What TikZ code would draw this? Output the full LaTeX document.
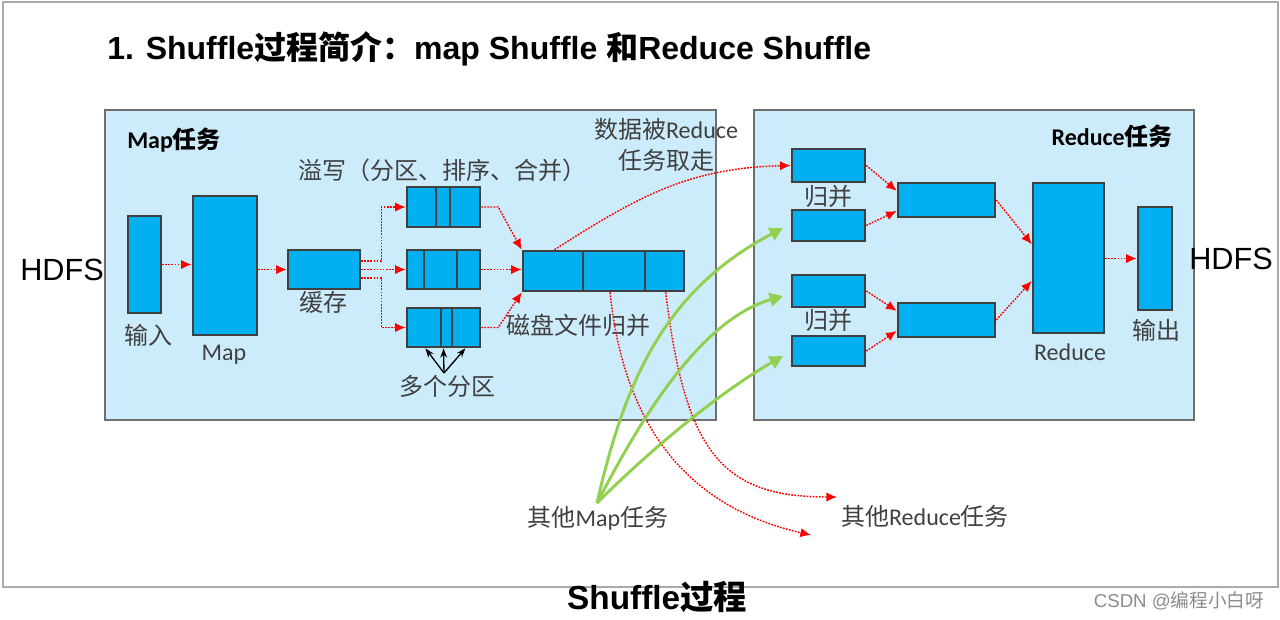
\documentclass[tikz,border=0pt]{standalone}
\usepackage{fontspec}
\setmainfont{Carlito}
\newfontfamily\cjk{Noto Sans CJK SC}
\newfontfamily\arialf{Liberation Sans}
\usetikzlibrary{fit,arrows.meta,calc}
\definecolor{boxfill}{RGB}{0,176,240}
\definecolor{boxline}{RGB}{64,64,64}
\definecolor{panelfill}{RGB}{204,236,252}
\definecolor{panelline}{RGB}{110,110,110}
\definecolor{framegray}{RGB}{170,170,170}
\definecolor{txtgray}{RGB}{64,64,64}
\definecolor{gline}{RGB}{146,208,80}
\newcommand{\zh}[1]{{\cjk #1}}
\tikzset{
  panel/.style={draw=panelline, fill=panelfill, line width=1.1pt, inner sep=0pt},
  bx/.style={draw=boxline, fill=boxfill, line width=1.9pt, inner sep=0pt},
  divider/.style={draw=boxline, line width=1.5pt},
  lbl/.style={font=\fontsize{18pt}{21pt}\selectfont, text=txtgray, inner sep=0pt},
  hlbl/.style={font=\fontsize{18pt}{21pt}\selectfont\bfseries, text=black, inner sep=0pt},
  ra/.style={draw=red, line width=1.1pt, dash pattern=on 1.3pt off 1pt, -{Latex[length=8pt,width=7pt]}},
  ga/.style={draw=gline, line width=2.2pt, -{Triangle[length=10pt,width=10pt]}},
  ka/.style={draw=black, line width=1pt, -{Stealth[length=7pt,width=5pt]}},
}
\begin{document}
\begin{tikzpicture}[x=0.75pt,y=-0.75pt]
\useasboundingbox (0,0) rectangle (1280,619);
\fill[white] (0,0) rectangle (1280,619);
\draw[framegray, line width=1pt] (3,2) rectangle (1278,587);

% title
\node[anchor=west, inner sep=0pt, font=\fontsize{24pt}{28pt}\selectfont\bfseries] (title) at (107,49)
  {{\arialf 1. Shuffle}{\cjk 过程简介：}{\arialf map Shuffle }{\cjk 和}{\arialf Reduce Shuffle}};

% panels
\node[panel, fit={(105,110)(716,420)}] (mappanel) {};
\node[panel, fit={(754,110)(1194,420)}] (redpanel) {};
\node[hlbl, anchor=west] (maptitle) at (127,140) {Map\zh{任务}};
\node[hlbl, anchor=east] (redtitle) at (1173,136) {Reduce\zh{任务}};

% HDFS
\node[inner sep=0pt, font=\arialf\fontsize{23pt}{26pt}\selectfont] (hdfsin) at (62,270) {HDFS};
\node[inner sep=0pt, font=\arialf\fontsize{23pt}{26pt}\selectfont] (hdfsout) at (1231,259) {HDFS};

% map side boxes
\node[bx, fit={(128,216)(161,313)}] (in) {};
\node[bx, fit={(193,196)(257,335)}] (map) {};
\node[bx, fit={(288,250)(360,289)}] (buf) {};
\node[bx, fit={(407,187)(480,227)}] (p1) {};
\node[bx, fit={(407,250)(480,289)}] (p2) {};
\node[bx, fit={(407,308)(480,347)}] (p3) {};
\node[bx, fit={(523,251)(684,291)}] (disk) {};
\draw[divider] (436,187) -- (436,227) (450,187) -- (450,227);
\draw[divider] (424,250) -- (424,289) (457,250) -- (457,289);
\draw[divider] (441,308) -- (441,347) (452,308) -- (452,347);
\draw[divider] (583,251) -- (583,291) (645,251) -- (645,291);

% map side labels
\node[lbl] (lin) at (148,335) {\zh{输入}};
\node[lbl] (lmap) at (224,355) {Map};
\node[lbl] (lbuf) at (323,302) {\zh{缓存}};
\node[lbl] (lspill) at (442,170) {\zh{溢写（分区、排序、合并）}};
\node[lbl] (lparts) at (447,386) {\zh{多个分区}};
\node[lbl] (ldisk) at (578,325) {\zh{磁盘文件归并}};
\node[lbl, align=center, font=\fontsize{18pt}{23pt}\selectfont] (ltake) at (666,145) {\zh{数据被}Reduce\\\zh{任务取走}};

% reduce side boxes
\node[bx, fit={(792,149)(865,182)}] (r1) {};
\node[bx, fit={(792,210)(865,241)}] (r2) {};
\node[bx, fit={(792,275)(865,307)}] (r3) {};
\node[bx, fit={(792,336)(865,366)}] (r4) {};
\node[bx, fit={(898,183)(995,217)}] (m1) {};
\node[bx, fit={(898,303)(995,337)}] (m2) {};
\node[bx, fit={(1033,183)(1104,333)}] (red) {};
\node[bx, fit={(1138,207)(1172,310)}] (out) {};

\node[lbl] (lmerge1) at (828,196) {\zh{归并}};
\node[lbl] (lmerge2) at (828,320) {\zh{归并}};
\node[lbl] (lred) at (1070,352) {Reduce};
\node[lbl] (lout) at (1156,330) {\zh{输出}};

% bottom labels
\node[lbl] (omap) at (598,518) {\zh{其他}Map\zh{任务}};
\node[lbl] (ored) at (925,516) {\zh{其他}Reduce\zh{任务}};
\node[inner sep=0pt, font=\fontsize{25pt}{28pt}\selectfont\bfseries] (caption) at (657,597) {{\arialf Shuffle}{\cjk 过程}};
\node[inner sep=0pt, text=black!45, font=\fontsize{14pt}{16pt}\selectfont] (wm) at (1179,601) {{\arialf CSDN @}{\cjk 编程小白呀}};

% red arrows, map side
\draw[ra] (in.east) -- (in.east -| map.west);
\draw[ra] (map.east |- buf.west) -- (buf.west);
\draw[ra] ($(buf.north east)!0.3!(buf.south east)$) -- ++(20,0) |- (p1.west);
\draw[ra] (buf.east) -- (buf.east -| p2.west);
\draw[ra] ($(buf.north east)!0.7!(buf.south east)$) -- ++(20,0) |- (p3.west);
\draw[ra] (p1.east) -- ++(17,0) -- (disk.north west);
\draw[ra] (p2.east) -- (p2.east -| disk.west);
\draw[ra] (p3.east) -- ++(17,0) -- (disk.south west);

% disk to reduce
\draw[ra] ($(disk.north west)!0.2!(disk.north east)$) .. controls (640,195) and (690,168) .. (r1.west);
\coordinate (oe1) at (811,535);
\coordinate (oe2) at (837,497);
\draw[ra] ($(disk.south west)!0.54!(disk.south east)$) .. controls (625,440) and (700,510) .. (oe1);
\draw[ra] ($(disk.south west)!0.88!(disk.south east)$) .. controls (685,450) and (720,497) .. (oe2);

% reduce side arrows
\draw[ra] (r1.east) -- ($(m1.north west)!0.25!(m1.south west)$);
\draw[ra] (r2.east) -- ($(m1.north west)!0.8!(m1.south west)$);
\draw[ra] (r3.east) -- ($(m2.north west)!0.25!(m2.south west)$);
\draw[ra] (r4.east) -- ($(m2.north west)!0.8!(m2.south west)$);
\draw[ra] (m1.east) -- ($(red.north west)!0.41!(red.south west)$);
\draw[ra] (m2.east) -- ($(red.north west)!0.65!(red.south west)$);
\draw[ra] (red.east |- out.west) -- (out.west);

% green arrows
\coordinate (gsrc) at (597,503);
\coordinate (g1) at (783,228);
\coordinate (g2) at (783,296);
\coordinate (g3) at (783,356);
\draw[ga] (gsrc) .. controls (625,380) and (665,290) .. (g1);
\draw[ga] (gsrc) .. controls (640,420) and (700,320) .. (g2);
\draw[ga] (gsrc) .. controls (645,455) and (715,395) .. (g3);

% black partition arrows
\coordinate (kp) at (444,373);
\draw[ka] (kp) -- ($(p3.south west)!0.26!(p3.south east)$);
\draw[ka] (kp) -- ($(p3.south west)!0.5!(p3.south east)$);
\draw[ka] (kp) -- ($(p3.south west)!0.79!(p3.south east)$);
\end{tikzpicture}
\end{document}
